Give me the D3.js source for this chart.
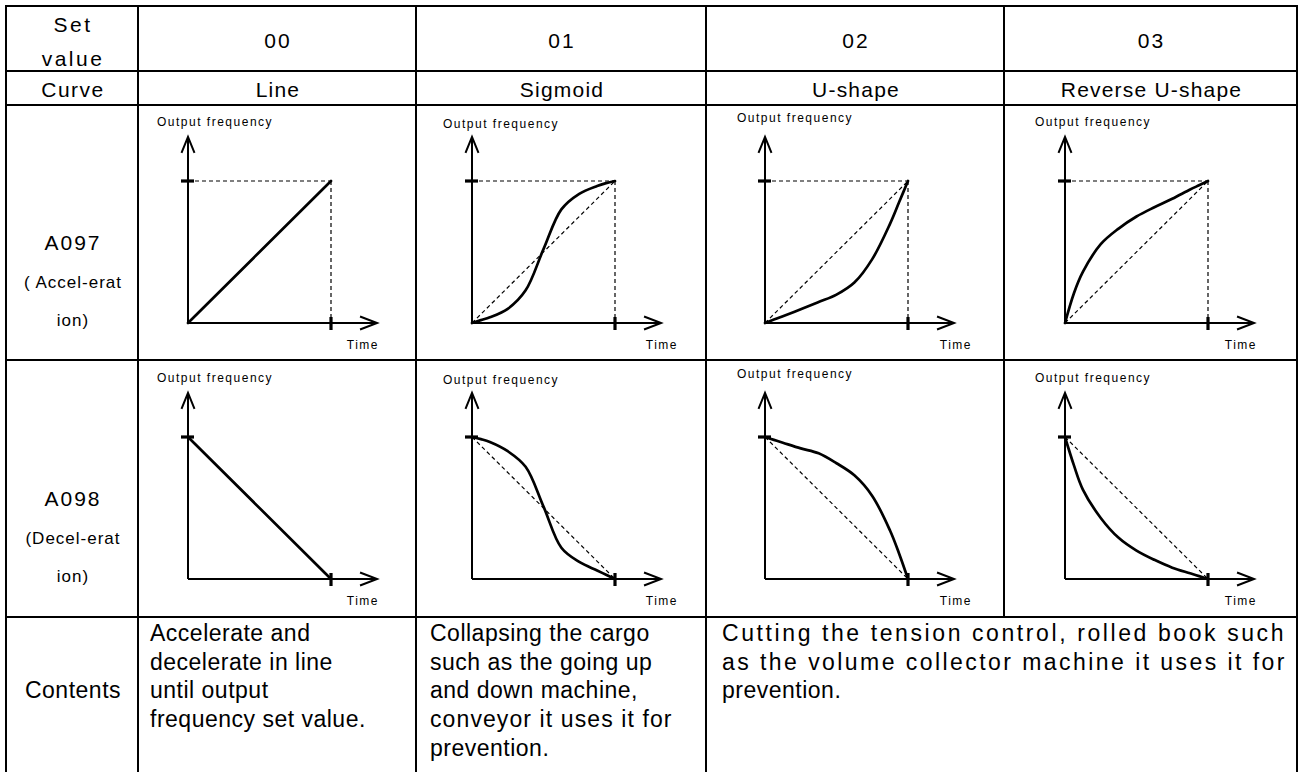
<!DOCTYPE html>
<html><head><meta charset="utf-8">
<script src="https://cdn.jsdelivr.net/npm/d3@7/dist/d3.min.js"></script>
<style>body{margin:0;background:#fff}svg{display:block}</style>
</head><body>
<svg id="chart" width="1299" height="772"></svg>
<script>
// ---------- data ----------
const headerLabel = ["Set", "value"];
const setValues = ["00", "01", "02", "03"];
const curveLabel = "Curve";
const curveNames = ["Line", "Sigmoid", "U-shape", "Reverse U-shape"];
const rowLabels = [["A097", "( Accel-erat", "ion)"], ["A098", "(Decel-erat", "ion)"]];
const axisYLabel = "Output frequency";
const axisXLabel = "Time";
const contentsLabel = "Contents";
const contentsCol0 = ["Accelerate and", "decelerate in line", "until output", "frequency set value."];
const contentsCol1 = ["Collapsing the cargo", "such as the going up", "and down machine,", "conveyor it uses it for", "prevention."];
const contentsCol23 = ["Cutting the tension control, rolled book such", "as the volume collector machine it uses it for", "prevention."];

// curve samples (time 0..1 -> output 0..1)
const lineX = [0, 1];
const accelLine = [0, 1];
const decelLine = [1, 0];
const sampleX = [0, 0.0625, 0.125, 0.25, 0.375, 0.5, 0.625, 0.75, 0.875, 0.9375, 1];
const accelSigmoid = [0, 0.02, 0.04, 0.10, 0.23, 0.52, 0.80, 0.91, 0.965, 0.985, 1];
const accelU = [0, 0.024, 0.048, 0.097, 0.148, 0.20, 0.285, 0.45, 0.70, 0.85, 1];
const accelRevU = [0, 0.21, 0.36, 0.555, 0.665, 0.75, 0.815, 0.875, 0.94, 0.97, 1];
const decelSigmoid = [1, 0.985, 0.965, 0.90, 0.79, 0.51, 0.22, 0.12, 0.06, 0.03, 0];
const decelU = [1, 0.98, 0.96, 0.92, 0.885, 0.815, 0.73, 0.585, 0.34, 0.18, 0];
const decelRevU = [1, 0.80, 0.63, 0.43, 0.29, 0.20, 0.135, 0.08, 0.04, 0.02, 0];

// ---------- layout ----------
const W = 1299, H = 772;
const colEdges = [6, 138, 416, 706, 1004, 1297];
const rowEdges = [6, 71, 105, 360, 617, 772];
const FONT = "'Liberation Sans', Arial, Helvetica, sans-serif";
const svg = d3.select("#chart");

const panelAxisX = [188, 472, 765, 1065];
const panelOriginY = [323, 579];
const panelW = 143, panelH = 142;
const ofLabelX = [157, 443, 737, 1035];
const ofLabelY = [126, 128, 122, 126];
const timeLabelRight = [379, 678, 972, 1257];
const timeLabelY = 349;
const rowShift = 256;
const HDR_LS = 1.2;

// ---------- grid ----------
const grid = svg.append("g").attr("stroke", "#000").attr("stroke-width", 2).attr("fill", "none");
[0, 1, 2, 3, 4].forEach(i => {
  grid.append("line").attr("x1", colEdges[0] - 1).attr("x2", colEdges[5] + 1)
    .attr("y1", rowEdges[i]).attr("y2", rowEdges[i]);
});
colEdges.forEach((cx, i) => {
  const bottom = (i === 4) ? rowEdges[4] : H;
  grid.append("line").attr("x1", cx).attr("x2", cx).attr("y1", rowEdges[0] - 1).attr("y2", bottom);
});

// ---------- header texts ----------
const txt = svg.append("g").attr("font-family", FONT).attr("fill", "#000");
const colCenter = i => (colEdges[i] + colEdges[i + 1]) / 2;

txt.selectAll("text.hdr").data(headerLabel).join("text")
  .attr("x", colCenter(0) + 1).attr("y", (d, i) => 32 + i * 34)
  .attr("text-anchor", "middle").attr("font-size", 21).attr("letter-spacing", 2.5).text(d => d);
txt.selectAll("text.sv").data(setValues).join("text")
  .attr("x", (d, i) => colCenter(i + 1) + 1).attr("y", 48)
  .attr("text-anchor", "middle").attr("font-size", 21).attr("letter-spacing", 2).text(d => d);
txt.append("text").attr("x", colCenter(0) + 1).attr("y", 97).attr("text-anchor", "middle")
  .attr("font-size", 21).attr("letter-spacing", 1.5).text(curveLabel);
txt.selectAll("text.cn").data(curveNames).join("text")
  .attr("x", (d, i) => colCenter(i + 1) + 1).attr("y", 97)
  .attr("text-anchor", "middle").attr("font-size", 21).attr("letter-spacing", HDR_LS).text(d => d);

rowLabels.forEach((lab, r) => {
  const base = 250 + r * rowShift;
  lab.forEach((s, k) => {
    txt.append("text").attr("x", colCenter(0) + 1).attr("y", base + k * 38)
      .attr("text-anchor", "middle")
      .attr("font-size", k === 0 ? 21 : 17).attr("letter-spacing", k === 0 ? 2 : 1)
      .text(s);
  });
});

// ---------- panels ----------
const panelCurves = [
  [[lineX, accelLine], [sampleX, accelSigmoid], [sampleX, accelU], [sampleX, accelRevU]],
  [[lineX, decelLine], [sampleX, decelSigmoid], [sampleX, decelU], [sampleX, decelRevU]]
];

const pg = svg.append("g");
for (let r = 0; r < 2; r++) {
  for (let c = 0; c < 4; c++) {
    const g = pg.append("g");
    const x = d3.scaleLinear().domain([0, 1]).range([panelAxisX[c], panelAxisX[c] + panelW]);
    const y = d3.scaleLinear().domain([0, 1]).range([panelOriginY[r], panelOriginY[r] - panelH]);
    const dash = g.append("g").attr("stroke", "#000").attr("stroke-width", 1.2)
      .attr("stroke-dasharray", "4,3").attr("fill", "none");
    if (r === 0) {
      dash.append("line").attr("x1", x(0)).attr("y1", y(1)).attr("x2", x(1)).attr("y2", y(1));
      dash.append("line").attr("x1", x(1)).attr("y1", y(1)).attr("x2", x(1)).attr("y2", y(0));
    }
    if (c > 0) {
      if (r === 0) dash.append("line").attr("x1", x(0)).attr("y1", y(0)).attr("x2", x(1)).attr("y2", y(1));
      else dash.append("line").attr("x1", x(0)).attr("y1", y(1)).attr("x2", x(1)).attr("y2", y(0));
    }
    const ax = g.append("g").attr("stroke", "#000").attr("stroke-width", 2).attr("fill", "none");
    const xTip = x(1.322), yTip = y(1.31);
    ax.append("line").attr("x1", x(0)).attr("y1", y(0)).attr("x2", xTip).attr("y2", y(0));
    ax.append("line").attr("x1", x(0)).attr("y1", y(0)).attr("x2", x(0)).attr("y2", yTip);
    ax.append("path").attr("d", `M${xTip - 17},${y(0) - 6.5}L${xTip},${y(0)}L${xTip - 17},${y(0) + 6.5}`);
    ax.append("path").attr("d", `M${x(0) - 6.5},${yTip + 16}L${x(0)},${yTip}L${x(0) + 6.5},${yTip + 16}`);
    const [xs, ys] = panelCurves[r][c];
    const pts = xs.map((v, i) => [v, ys[i]]);
    g.append("path").datum(pts)
      .attr("d", d3.line().x(d => x(d[0])).y(d => y(d[1])).curve(d3.curveCatmullRom.alpha(0.5)))
      .attr("fill", "none").attr("stroke", "#000").attr("stroke-width", 2.7)
      .attr("stroke-linejoin", "round").attr("stroke-linecap", "round");
    const tk = g.append("g").attr("stroke", "#000").attr("stroke-width", 3.2);
    tk.append("line").attr("x1", x(0) - 7).attr("x2", x(0) + 6).attr("y1", y(1)).attr("y2", y(1));
    tk.append("line").attr("x1", x(1)).attr("x2", x(1)).attr("y1", y(0) - 6).attr("y2", y(0) + 7);
    g.append("text").attr("x", ofLabelX[c]).attr("y", ofLabelY[c] + r * rowShift)
      .attr("font-family", FONT).attr("font-size", 12).attr("letter-spacing", 1.5)
      .attr("fill", "#000").text(axisYLabel);
    g.append("text").attr("x", timeLabelRight[c]).attr("y", timeLabelY + r * rowShift)
      .attr("text-anchor", "end")
      .attr("font-family", FONT).attr("font-size", 12).attr("letter-spacing", 1.5)
      .attr("fill", "#000").text(axisXLabel);
  }
}

// ---------- contents row ----------
const cBase = 641, cStep = 28.7;
txt.append("text").attr("x", colCenter(0) + 1).attr("y", cBase + 2 * cStep)
  .attr("text-anchor", "middle").attr("font-size", 23).attr("letter-spacing", 0.5).text(contentsLabel);
const contentBlocks = [[contentsCol0, 150, []], [contentsCol1, 430, [null, null, null, 242]], [contentsCol23, 722, [562, 563]]];
contentBlocks.forEach(([lines, x0, justify]) => {
  lines.forEach((s, i) => {
    const yy = cBase + i * cStep;
    const t = txt.append("text").attr("x", x0).attr("y", yy)
      .attr("font-size", 23).attr("letter-spacing", 0.5).text(s);
    if (justify[i]) t.attr("textLength", justify[i]).attr("lengthAdjust", "spacing");
  });
});
</script>
</body></html>
